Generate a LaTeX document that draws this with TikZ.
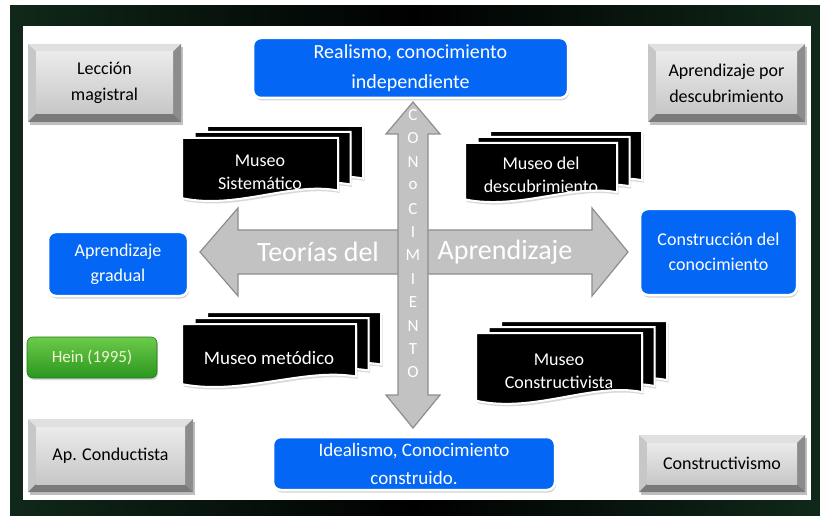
\documentclass[tikz,border=0pt]{standalone}
\usepackage{fontspec}
\setmainfont{Carlito}
\usetikzlibrary{shadows}

\definecolor{bggreen}{HTML}{10281A}
\definecolor{boxblue}{HTML}{0466F5}
\definecolor{arrowgray}{HTML}{C2C2C2}
\definecolor{arrowline}{HTML}{8E8E8E}
\definecolor{heintop}{HTML}{6CCB4A}
\definecolor{heinbot}{HTML}{2A961E}
\definecolor{heintext}{HTML}{F2F7D2}

\tikzset{
  bluebox/.style={draw=white, line width=2.5pt, fill=boxblue, rounded corners=8pt,
    text=white, align=center, inner sep=0pt,
    drop shadow={shadow xshift=1pt, shadow yshift=-2.5pt, opacity=0.35}},
  graytext/.style={text=black, align=center, font=\fontsize{18}{26}\selectfont},
  sheet/.style={fill=black, draw=white, line width=2pt,
    drop shadow={shadow xshift=1.5pt, shadow yshift=-2.5pt, opacity=0.3}},
  museotext/.style={text=white, align=center},
  vletter/.style={text=white, font=\fontsize{17}{17}\selectfont, inner sep=0pt},
  bigarrow/.style={fill=arrowgray, draw=arrowline, line width=1.2pt, line join=miter},
  arrowtext/.style={text=white, font=\fontsize{28}{28}\selectfont, inner sep=0pt},
}

% beveled gray box: name, x0, y0, x1, y1, text
\newcommand{\bevelbox}[6]{%
  \fill[black!25] ({#2+2},{#3+3}) rectangle ({#4+2},{#5+3});
  \fill[black!12] ({#2},{#3}) -- ({#4},{#3}) -- ({#4-8},{#3+8}) -- ({#2+8},{#3+8}) -- cycle;
  \fill[black!22] ({#2},{#3}) -- ({#2+8},{#3+8}) -- ({#2+8},{#5-8}) -- ({#2},{#5}) -- cycle;
  \fill[black!45] ({#4},{#3}) -- ({#4},{#5}) -- ({#4-8},{#5-8}) -- ({#4-8},{#3+8}) -- cycle;
  \fill[black!52] ({#2},{#5}) -- ({#4},{#5}) -- ({#4-8},{#5-8}) -- ({#2+8},{#5-8}) -- cycle;
  \shade[top color=black!8, bottom color=black!22] ({#2+8},{#3+8}) rectangle ({#4-8},{#5-8});
  \node[graytext] (#1) at ({(#2+#4)/2},{(#3+#5)/2}) {#6};
}

% one sheet of a museo stack: x, y, w, h
\newcommand{\museosheet}[4]{%
  \path[sheet] ({#1},{#2}) -- ({#1+#3},{#2}) -- ({#1+#3},{#2+0.82*#4})
    .. controls ({#1+0.7*#3},{#2+0.68*#4}) and ({#1+0.35*#3},{#2+1.12*#4}) .. ({#1},{#2+0.94*#4}) -- cycle;
}
% museo stack: name, x, y, w, h, font size, text
\newcommand{\museostack}[7]{%
  \museosheet{#2+25}{#3-12}{#4}{#5}
  \museosheet{#2+12.5}{#3-6}{#4}{#5}
  \museosheet{#2}{#3}{#4}{#5}
  \node[museotext, font=\fontsize{#6}{23}\selectfont] (#1) at ({#2+#4/2},{#3+0.53*#5}) {#7};
}

\begin{document}
\begin{tikzpicture}[x=1pt, y=-1pt]
  \useasboundingbox (0,0) rectangle (820,516);

  % frame and panel
  \shade[left color=bggreen, right color=bggreen, middle color=black] (10,6) rectangle (820,516);
  \fill[white] (23,26) rectangle (811,500);

  % corner boxes
  \bevelbox{leccion}{28}{44}{181}{122}{Lección\\magistral}
  \bevelbox{descub}{648}{44}{805}{122}{Aprendizaje por\\descubrimiento}
  \bevelbox{conductista}{28}{419}{193}{492}{Ap. Conductista}
  \bevelbox{construct}{639}{435}{805}{492}{Constructivismo}

  % horizontal arrow
  \draw[bigarrow] (200,252) -- (238,208) -- (238,230) -- (592,230) -- (592,208) -- (628,252)
    -- (592,296) -- (592,274) -- (238,274) -- (238,296) -- cycle;
  \node[arrowtext] (teorias) at (318,252) {Teorías del};
  \node[arrowtext] (aprend) at (505,252) {Aprendizaje};

  % vertical arrow
  \draw[bigarrow] (413,102) -- (440,134) -- (428,134) -- (428,395) -- (440,395) -- (413,428)
    -- (386,395) -- (398,395) -- (398,134) -- (386,134) -- cycle;
  \foreach \l [count=\i from 0] in {C,O,N,o,C,I,M,I,E,N,T,O}
    \node[vletter] (k\i) at (413,{115+23.4*\i}) {\l};

  % blue boxes
  \node[bluebox, minimum width=315pt, minimum height=60pt, font=\fontsize{20}{30}\selectfont]
    (realismo) at (410.5,68) {Realismo, conocimiento\\independiente};
  \node[bluebox, minimum width=282pt, minimum height=53pt, font=\fontsize{19}{28}\selectfont]
    (idealismo) at (414,463.5) {Idealismo, Conocimiento\\construido.};
  \node[bluebox, minimum width=157pt, minimum height=86pt, font=\fontsize{18}{25}\selectfont]
    (construccion) at (718.5,252) {Construcción del\\conocimiento};
  \node[bluebox, minimum width=140pt, minimum height=64pt, font=\fontsize{18}{25}\selectfont]
    (gradual) at (118,264) {Aprendizaje\\gradual};

  % museo stacks
  \museostack{sistematico}{182}{138}{156}{64}{18}{Museo\\Sistemático}
  \museostack{museodesc}{465}{143}{152}{60}{18}{Museo del\\descubrimiento}
  \museostack{metodico}{182}{324}{174}{64}{19}{Museo metódico}
  \museostack{museoconst}{476}{333}{166}{72}{18}{Museo\\Constructivista}

  % Hein
  \node[draw=heinbot!80!black, line width=0.6pt, rounded corners=6pt, top color=heintop,
    bottom color=heinbot, minimum width=130pt, minimum height=41pt, text=heintext,
    font=\fontsize{17}{17}\selectfont, drop shadow={shadow xshift=1pt, shadow yshift=-2pt, opacity=0.3}]
    (hein) at (92,357.5) {Hein (1995)};
\end{tikzpicture}
\end{document}
